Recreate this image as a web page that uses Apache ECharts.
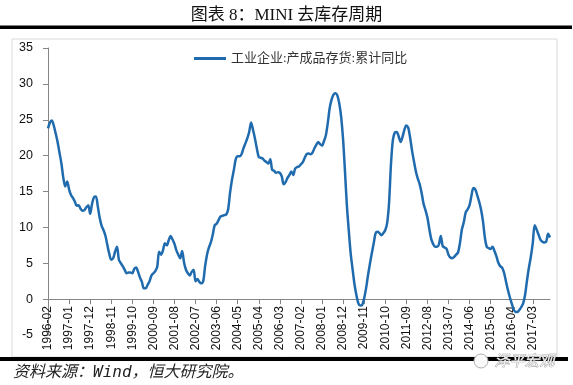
<!DOCTYPE html>
<html>
<head>
<meta charset="utf-8">
<script src="https://cdn.jsdelivr.net/npm/echarts@6/dist/echarts.min.js"></script>
<style>html,body{margin:0;padding:0;background:#fff;}#c{width:573px;height:385px;}</style>
</head>
<body>
<div id="c"></div>
<script>
// Category range (monthly)
var startYear = 1996, startMonth = 2, monthCount = 263;
var categories = [];
for (var k = 0; k < monthCount; k++) {
  var m = startMonth - 1 + k;
  var y = startYear + Math.floor(m / 12);
  var mm = (m % 12) + 1;
  categories.push(y + '-' + (mm < 10 ? '0' + mm : mm));
}
var seriesName = '工业企业:产成品存货:累计同比';
var inventoryYoY = [
  23.8,24.6,24.9,24.2,23.1,21.9,20.4,18.9,16.9,15.7,16.4,15.3,
  14.5,14.1,13.6,13.0,13.1,12.6,12.3,12.4,12.8,13.1,11.9,13.3,
  14.2,14.3,12.9,11.3,10.2,9.6,8.8,7.5,6.3,5.5,5.7,6.6,
  7.3,5.5,5.0,4.6,4.1,3.6,3.7,3.7,3.6,4.2,4.4,3.8,
  3.0,2.4,1.5,1.5,2.0,2.5,3.3,3.6,3.9,4.5,6.6,6.2,
  6.8,7.8,7.5,8.2,8.8,8.3,7.7,6.8,6.2,5.7,6.7,5.1,
  4.1,3.6,3.3,3.8,4.1,2.5,2.8,2.4,2.2,2.5,4.6,6.2,
  7.2,7.9,9.0,10.3,10.5,11.0,11.5,11.6,11.7,11.8,12.5,14.8,
  16.6,18.0,19.5,19.9,19.9,20.2,21.0,21.7,22.4,23.3,24.6,23.6,
  22.4,21.0,19.8,19.7,19.6,19.3,19.1,18.9,19.5,18.0,17.9,17.6,
  17.7,17.6,17.1,16.0,16.3,16.9,17.3,17.8,17.3,18.2,18.4,18.5,
  18.8,19.1,19.7,20.2,20.3,20.2,20.4,21.0,21.5,21.9,21.6,21.4,
  22.0,22.8,24.5,26.6,27.8,28.5,28.7,28.4,27.3,25.4,22.3,17.8,
  13.0,9.5,6.3,4.1,2.0,0.5,-0.6,-0.9,-0.8,0.1,1.5,3.3,
  4.9,6.4,7.8,9.2,9.4,9.2,8.9,9.2,9.6,10.6,13.4,18.8,
  22.2,23.2,23.3,22.7,21.9,22.6,23.6,24.2,23.9,22.5,20.7,19.2,
  17.8,16.8,16.0,14.8,13.3,12.4,11.4,9.8,8.4,7.7,7.3,7.3,
  7.6,8.8,7.4,7.2,7.0,6.2,5.8,5.7,5.9,6.2,6.5,7.8,
  9.7,10.7,12.1,12.5,13.1,14.4,15.5,15.3,14.5,13.6,12.5,10.9,
  8.6,7.3,7.1,7.0,7.3,6.7,6.0,5.1,4.6,4.4,3.7,2.5,
  1.3,0.3,-0.6,-1.4,-1.8,-1.8,-1.5,-1.1,-0.6,0.6,2.6,4.4,
  5.9,7.8,10.3,9.7,9.0,8.3,8.0,7.9,8.0,9.1,8.6
];
var yMin = -5, yMax = 35, yStep = 5;

var gridTop = 48, gridBottom = 50, chartH = 385;
var plotH = chartH - gridTop - gridBottom;
var zeroOffset = -plotH * (0 - yMin) / (yMax - yMin); // lift x axis to the zero line

var chart = echarts.init(document.getElementById('c'), null, {renderer: 'canvas'});
chart.setOption({
  animation: false,
  backgroundColor: '#fff',
  title: {
    text: '图表 8：MINI 去库存周期',
    left: 'center', top: 2,
    textStyle: {fontFamily: 'Liberation Serif, Noto Sans CJK SC', fontSize: 17, fontWeight: 'normal', color: '#111'}
  },
  graphic: [
    {type: 'rect', shape: {x: 12, y: 39, width: 545, height: 318}, style: {fill: 'none', stroke: '#d9d9d9', lineWidth: 1}, silent: true},
    {type: 'rect', shape: {x: 0, y: 25.5, width: 572, height: 3.5}, style: {fill: '#000'}, silent: true},
    {type: 'rect', shape: {x: 0, y: 357, width: 568, height: 4}, style: {fill: '#000'}, silent: true},
    {type: 'text', left: 13, top: 365, style: {text: '资料来源：Wind，恒大研究院。', fontFamily: 'DejaVu Sans Mono, Noto Sans CJK SC', fontStyle: 'italic', fontSize: 16, fill: '#222'}},
    {type: 'circle', shape: {cx: 481, cy: 361, r: 7}, style: {fill: '#fafafa', stroke: '#b0b0b0', lineWidth: 1}, silent: true},
    {type: 'text', left: 494, top: 352, style: {text: '泽平宏观', fontFamily: 'Noto Sans CJK SC', fontStyle: 'italic', fontSize: 15, fill: '#f2f2f2', stroke: '#9a9a9a', lineWidth: 0.8}}
  ],
  legend: {
    data: [seriesName],
    left: 189, top: 47,
    icon: 'rect', itemWidth: 32, itemHeight: 3, itemGap: 4,
    textStyle: {fontFamily: 'Liberation Serif, Noto Sans CJK SC', fontSize: 13, color: '#333'}
  },
  grid: {left: 48, right: 23, top: gridTop, bottom: gridBottom},
  xAxis: {
    type: 'category',
    data: categories,
    boundaryGap: false,
    offset: zeroOffset,
    axisLine: {onZero: false, lineStyle: {color: '#868686', width: 1}},
    axisTick: {show: true, interval: 10, length: 5, inside: false, lineStyle: {color: '#868686'}},
    axisLabel: {interval: 10, rotate: 90, fontFamily: 'Liberation Sans', fontSize: 12, color: '#111', margin: 7},
    splitLine: {show: false}
  },
  yAxis: {
    type: 'value',
    min: yMin, max: yMax, interval: yStep,
    axisLine: {show: true, lineStyle: {color: '#868686'}},
    axisTick: {show: true, length: 5, lineStyle: {color: '#868686'}},
    axisLabel: {fontFamily: 'Liberation Sans', fontSize: 12.5, color: '#111', margin: 15},
    splitLine: {show: false}
  },
  series: [{
    name: seriesName,
    type: 'line',
    data: inventoryYoY,
    symbol: 'none',
    smooth: 0.3,
    lineStyle: {color: '#1f6bae', width: 2.5},
    itemStyle: {color: '#1f6bae'}
  }]
});
</script>
</body>
</html>
